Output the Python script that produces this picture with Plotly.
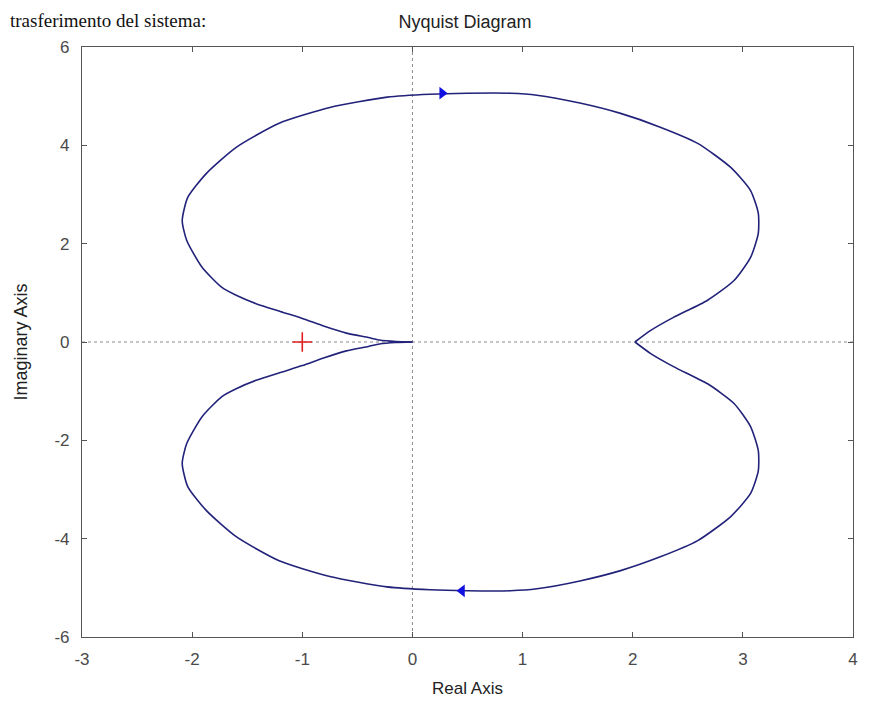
import plotly.graph_objects as go

# Upper branch of the Nyquist curve (from origin outward, ending at the real-axis crossing near 2)
re_upper = [0.00, -0.15, -0.30, -0.40, -0.60, -0.80, -1.00, -1.20, -1.42, -1.60, -1.73, -1.91,
            -2.05, -2.09, -2.04, -1.87, -1.60, -1.21, -0.75, -0.23, 0.16, 0.50, 0.89, 1.13,
            1.52, 1.89, 2.25, 2.59, 2.89, 3.07, 3.14, 3.14, 3.07, 2.92, 2.68, 2.37, 2.16, 2.02]
im_upper = [0.00, 0.01, 0.04, 0.09, 0.18, 0.32, 0.48, 0.62, 0.78, 0.95, 1.11, 1.52,
            2.07, 2.47, 2.94, 3.43, 3.96, 4.45, 4.77, 4.98, 5.04, 5.06, 5.06, 5.02,
            4.86, 4.65, 4.37, 4.04, 3.55, 3.08, 2.62, 2.21, 1.72, 1.25, 0.85, 0.50, 0.23, 0.00]

# Lower branch is the mirror image (negative frequencies)
re_lower = list(re_upper)
im_lower = [-v for v in im_upper]

# Direction arrows
arrow_re = [0.27, 0.45]
arrow_im = [5.06, -5.06]
arrow_sym = ["triangle-right", "triangle-left"]

# Critical point
crit_re = [-1.0]
crit_im = [0.0]

x_ticks = [-3, -2, -1, 0, 1, 2, 3, 4]
y_ticks = [-6, -4, -2, 0, 2, 4, 6]

line_col = "#22227a"
FONT = "Liberation Sans, Arial, sans-serif"

W, H = 861, 700          # page body has an 8px default margin
ML, MR, MT, MB = 74, 16, 39, 71
PH = H - MT - MB
PW = W - ML - MR

fig = go.Figure()

# dotted axes through the origin
fig.add_trace(go.Scatter(x=[-3, 4], y=[0, 0], mode="lines",
                         line=dict(color="#8a8a8a", width=1, dash="dot"),
                         hoverinfo="skip", showlegend=False))
fig.add_trace(go.Scatter(x=[0, 0], y=[-6, 6], mode="lines",
                         line=dict(color="#8a8a8a", width=1, dash="dot"),
                         hoverinfo="skip", showlegend=False))

fig.add_trace(go.Scatter(x=re_upper, y=im_upper, mode="lines",
                         line=dict(color=line_col, width=1.6, shape="spline", smoothing=0.6),
                         showlegend=False))
fig.add_trace(go.Scatter(x=re_lower, y=im_lower, mode="lines",
                         line=dict(color=line_col, width=1.6, shape="spline", smoothing=0.6),
                         showlegend=False))

fig.add_trace(go.Scatter(x=arrow_re, y=arrow_im, mode="markers",
                         marker=dict(symbol=arrow_sym, size=11, color="#1010e0"),
                         showlegend=False))

fig.add_trace(go.Scatter(x=crit_re, y=crit_im, mode="markers",
                         marker=dict(symbol="cross-thin", size=14,
                                     line=dict(color="#e02020", width=1.6)),
                         showlegend=False))

axis_common = dict(showgrid=False, zeroline=False, showline=True, linecolor="#555555",
                   linewidth=1.2, mirror="ticks", ticks="inside", ticklen=5,
                   tickcolor="#555555", automargin=False,
                   tickfont=dict(family=FONT, size=17, color="#4a4a4a"))

fig.update_xaxes(range=[-3, 4], tickvals=x_ticks, ticktext=[str(v) for v in x_ticks],
                 ticklabelstandoff=6,
                 title=dict(text="Real Axis", standoff=14,
                            font=dict(family=FONT, size=17, color="#222222")),
                 **axis_common)
fig.update_yaxes(range=[-6, 6], tickvals=y_ticks, ticktext=[str(v) for v in y_ticks],
                 ticklabelstandoff=8,
                 title=dict(text="Imaginary Axis", standoff=22,
                            font=dict(family=FONT, size=18, color="#222222")),
                 **axis_common)

fig.update_layout(
    width=W, height=H,
    margin=dict(l=ML, r=MR, t=MT, b=MB),
    paper_bgcolor="white", plot_bgcolor="white",
    title=dict(text="Nyquist Diagram", x=457 / W, xanchor="center", y=1 - 14 / H,
               yanchor="middle",
               font=dict(family=FONT, size=18, color="#222222")),
    annotations=[
        dict(text="trasferimento del sistema:", xref="paper", yref="paper",
             x=-ML / PW, y=1 + MT / PH, xanchor="left", yanchor="top",
             showarrow=False,
             font=dict(family="Liberation Serif, Times New Roman, serif", size=19,
                       color="#111111")),
    ],
)

fig.write_html("out.html")
